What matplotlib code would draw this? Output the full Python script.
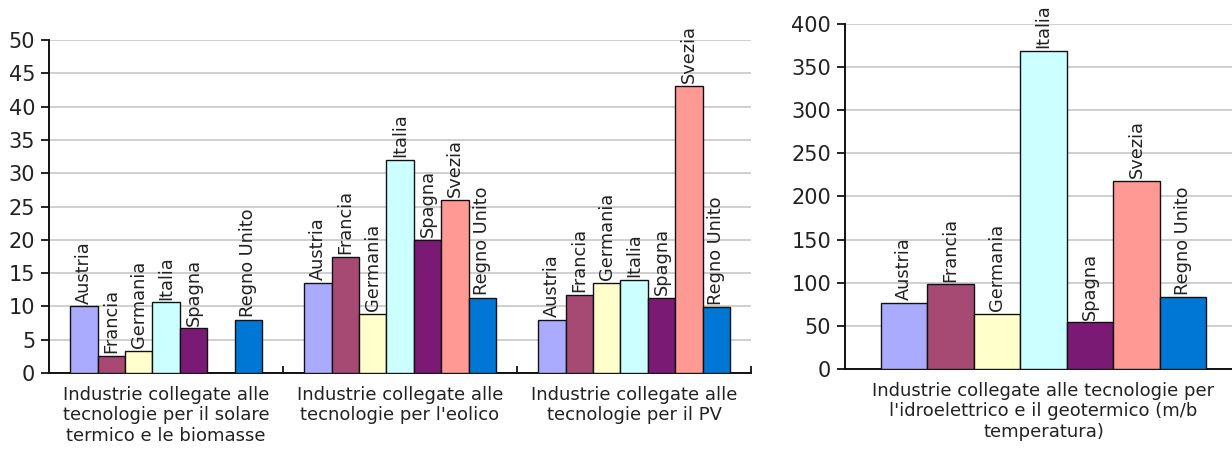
import numpy as np
import matplotlib
matplotlib.use('Agg')
import matplotlib.pyplot as plt

# Data
countries = ['Austria', 'Francia', 'Germania', 'Italia', 'Spagna', 'Svezia', 'Regno Unito']
colors = ['#aaaaff', '#a64a73', '#ffffcc', '#ccffff', '#7b1a75', '#ff9994', '#0077d4']

left_groups = ['Industrie collegate alle\ntecnologie per il solare\ntermico e le biomasse',
               'Industrie collegate alle\ntecnologie per l\'eolico',
               'Industrie collegate alle\ntecnologie per il PV']
solare = [10.0, 2.6, 3.35, 10.6, 6.7, np.nan, 7.95]
eolico = [13.5, 17.5, 8.85, 32.0, 20.0, 26.0, 11.25]
pv = [8.0, 11.75, 13.5, 13.95, 11.25, 43.1, 9.85]

right_group = ['Industrie collegate alle tecnologie per\nl\'idroelettrico e il geotermico (m/b\ntemperatura)']
idro = [77, 98, 64, 369, 54, 218, 83]

plt.rcParams['font.family'] = 'DejaVu Sans'
text_col = '#222222'

fig = plt.figure(figsize=(12.32, 4.5), dpi=100)
ax1 = fig.add_axes([0.0398, 0.171, 0.5698, 0.74])
ax2 = fig.add_axes([0.6859, 0.18, 0.3222, 0.7667])


def draw(ax, groups, data, ymax, ystep):
    n = len(countries)
    w = 0.82 / n
    for g, vals in enumerate(data):
        for i, v in enumerate(vals):
            if np.isnan(v):
                continue
            x = g + (i - (n - 1) / 2) * w
            ax.bar(x, v, width=w, color=colors[i], edgecolor='#111111', linewidth=1.0, zorder=3)
            ax.annotate(countries[i], (x, v), xytext=(0, 2), textcoords='offset points',
                        rotation=90, ha='center', va='bottom', fontsize=12.8,
                        color=text_col, annotation_clip=False, zorder=4)
    ax.set_xlim(-0.5, len(groups) - 0.5)
    ax.set_ylim(0, ymax)
    ax.set_yticks(np.arange(0, ymax + 1, ystep))
    ax.yaxis.grid(True, color='#cccccc', linewidth=1.3, zorder=0)
    ax.set_axisbelow(True)
    ax.set_xticks(range(len(groups)))
    ax.set_xticklabels(groups, fontsize=13, color=text_col, linespacing=1.2)
    ax.tick_params(axis='x', length=0, pad=9)
    ax.set_xticks(np.arange(0.5, len(groups), 1), minor=True)
    ax.tick_params(axis='x', which='minor', direction='in', length=5, width=1.2)
    ax.tick_params(axis='y', length=6, width=1.2, labelsize=15, labelcolor=text_col, pad=4)
    for s in ['top', 'right']:
        ax.spines[s].set_visible(False)
    for s in ['left', 'bottom']:
        ax.spines[s].set_linewidth(1.4)
        ax.spines[s].set_color('#111111')


draw(ax1, left_groups, [solare, eolico, pv], 50, 5)
draw(ax2, right_group, [idro], 400, 50)

fig.savefig('out.png', dpi=100)
